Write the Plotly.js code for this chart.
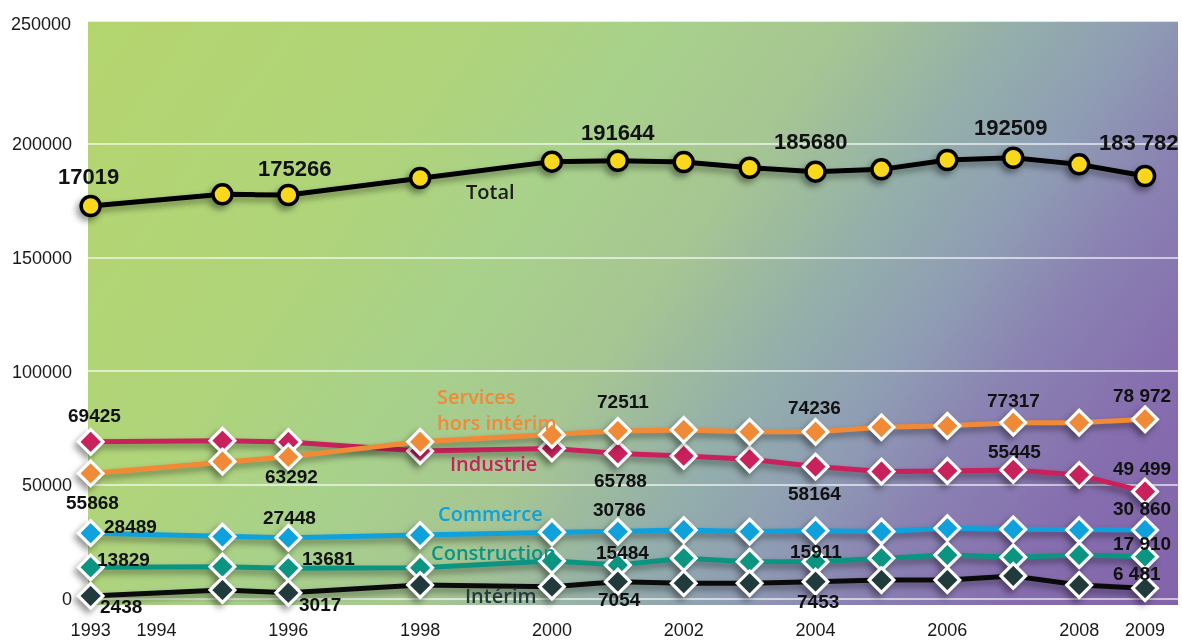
<!DOCTYPE html>
<html>
<head>
<meta charset="utf-8">
<script src="https://cdn.plot.ly/plotly-3.0.1.min.js"></script>
<style>
  html, body { margin: 0; padding: 0; background: #ffffff; }
  #chart { width: 1182px; height: 641px; }
  .js-plotly-plot .scatterlayer .trace { filter: drop-shadow(-3px 4px 3px rgba(0,0,0,0.40)); }
</style>
</head>
<body>
<div id="chart"></div>
<script>
// ---------- data ----------
const years = [1993, 1995, 1996, 1998, 2000, 2001, 2002, 2003, 2004, 2005, 2006, 2007, 2008, 2009];

const total        = [172700, 177800, 177500, 185000, 192200, 192600, 192000, 189500, 187800, 188800, 192900, 193900, 191000, 185900];
const industrie    = [69000, 69500, 68900, 64900, 66100, 63900, 62800, 61300, 58100, 55900, 56200, 56600, 54400, 47100];
const services     = [55100, 60300, 62400, 69000, 72000, 73800, 74200, 73400, 73400, 75400, 76000, 77400, 77400, 78900];
const commerce     = [28800, 27300, 26800, 28000, 29200, 29500, 30200, 29500, 29900, 29500, 31000, 30500, 30200, 30200];
const construction = [13800, 14100, 13400, 13600, 16600, 14800, 17800, 16300, 16300, 17800, 19200, 18200, 19200, 18500];
const interim      = [1200, 3800, 2600, 6000, 5300, 7500, 6800, 6800, 7500, 8200, 8200, 10000, 6000, 4600];

const totalLabels        = ['17019', null, '175266', null, null, '191644', null, null, '185680', null, null, '192509', null, '183 782'];
const industrieLabels    = ['69425', null, null, null, null, '65788', null, null, '58164', null, null, '55445', null, '49 499'];
const servicesLabels     = ['55868', null, '63292', null, null, '72511', null, null, '74236', null, null, '77317', null, '78 972'];
const commerceLabels     = ['28489', null, '27448', null, null, '30786', null, null, null, null, null, null, null, '30 860'];
const constructionLabels = ['13829', null, '13681', null, null, '15484', null, null, '15911', null, null, null, null, '17 910'];
const interimLabels      = ['2438', null, '3017', null, null, '7054', null, null, '7453', null, null, null, null, '6 481'];

const seriesNames = ['Total', 'Industrie', 'Services hors intérim', 'Commerce', 'Construction', 'Intérim'];

const xTickVals  = [1993, 1994, 1996, 1998, 2000, 2002, 2004, 2006, 2008, 2009];
const xTickText  = ['1993', '1994', '1996', '1998', '2000', '2002', '2004', '2006', '2008', '2009'];
const yTickVals  = [0, 50000, 100000, 150000, 200000];
const yTickText  = ['0', '50000', '100000', '150000', '200000'];
const yTopLabel  = '250000';

// ---------- styling / placement (not data) ----------
const LBL_FONT = 'Liberation Sans, Arial, sans-serif';
const NAME_FONT = 'Open Sans, sans-serif';

// label offsets in pixels [dx, dy(screen, down positive)], indexed like years
const offsets = {
  total:        {0:[-2,-29], 2:[6,-27], 5:[0,-28], 8:[-5,-30], 11:[-3,-30], 13:[-6,-33]},
  industrie:    {0:[4,-26], 5:[3,27], 8:[-1,27], 11:[1,-18], 13:[-3,-23]},
  services:     {0:[2,29], 2:[3,20], 5:[5,-29], 8:[-1,-24], 11:[0,-22], 13:[-3,-24]},
  commerce:     {0:[40,-7], 2:[1,-20], 5:[2,-22], 13:[-3,-22]},
  construction: {0:[33,-8], 2:[40,-10], 5:[5,-13], 8:[0,-10], 13:[-3,-13]},
  interim:      {0:[30,11], 2:[32,12], 5:[2,18], 8:[2,20], 13:[-8,-15]}
};

const colors = {
  total: '#000000', totalMarker: '#f9d71c',
  industrie: '#c8215b', services: '#f08a37', commerce: '#0ea1dc',
  construction: '#0b9580', interimLine: '#0a0a0a', interimMarker: '#213a3c'
};

function lineTrace(name, y, lineColor, markerColor, symbol, size, mlineColor, mlineW, lw) {
  return {
    type: 'scatter', mode: 'lines+markers', name: name,
    x: years, y: y,
    line: { color: lineColor, width: lw },
    marker: { symbol: symbol, size: size, color: markerColor, line: { color: mlineColor, width: mlineW } },
    hoverinfo: 'x+y', cliponaxis: false
  };
}

const traces = [
  lineTrace(seriesNames[0], total, colors.total, colors.totalMarker, 'circle', 19, '#000000', 3.5, 5),
  lineTrace(seriesNames[1], industrie, colors.industrie, colors.industrie, 'diamond', 19, '#ffffff', 3.2, 5),
  lineTrace(seriesNames[2], services, colors.services, colors.services, 'diamond', 19, '#ffffff', 3.2, 5),
  lineTrace(seriesNames[3], commerce, colors.commerce, colors.commerce, 'diamond', 19, '#ffffff', 3.2, 5),
  lineTrace(seriesNames[4], construction, colors.construction, colors.construction, 'diamond', 19, '#ffffff', 3.2, 5),
  lineTrace(seriesNames[5], interim, colors.interimLine, colors.interimMarker, 'diamond', 19, '#ffffff', 3.2, 5)
];

const annotations = [];
function addLabels(vals, labels, off, size) {
  labels.forEach(function (t, i) {
    if (t === null) return;
    const o = off[i] || [0, -25];
    annotations.push({
      xref: 'x', yref: 'y', x: years[i], y: vals[i], text: t, showarrow: false,
      xshift: o[0], yshift: -o[1], xanchor: 'center', yanchor: 'middle',
      font: { family: LBL_FONT, size: size, color: '#111111', weight: 'bold' }
    });
  });
}
addLabels(total, totalLabels, offsets.total, 22);
addLabels(industrie, industrieLabels, offsets.industrie, 19);
addLabels(services, servicesLabels, offsets.services, 19);
addLabels(commerce, commerceLabels, offsets.commerce, 19);
addLabels(construction, constructionLabels, offsets.construction, 19);
addLabels(interim, interimLabels, offsets.interim, 19);

// series name labels placed inside the plot
function nameLabel(text, x, y, color, anchor) {
  annotations.push({
    xref: 'x', yref: 'y', x: x, y: y, text: text, showarrow: false,
    xanchor: anchor || 'center', yanchor: 'middle', align: anchor || 'center',
    font: { family: NAME_FONT, size: 20, color: color, weight: 600 }
  });
}
nameLabel('Total', 1999.06, 178980, '#1c1c1c');
nameLabel('Services<br>hors intérim', 1998.22, 83110, colors.services, 'left');
nameLabel('Industrie', 1999.12, 59540, colors.industrie);
nameLabel('Commerce', 1999.06, 37250, colors.commerce);
nameLabel('Construction', 1999.11, 20230, colors.construction);
nameLabel('Intérim', 1999.22, 1190, '#23393b');

// top y label (its gridline coincides with the plot frame)
annotations.push({
  xref: 'paper', yref: 'paper', x: 0, y: 1, text: yTopLabel, showarrow: false,
  xanchor: 'right', yanchor: 'middle', xshift: -15, yshift: -3,
  font: { family: LBL_FONT, size: 18, color: '#1a1a1a' }
});

// background gradient as svg image
const svg = "<svg xmlns='http://www.w3.org/2000/svg' width='1090' height='584' viewBox='0 0 1090 584' preserveAspectRatio='none'>" +
  "<defs><linearGradient id='g' gradientUnits='userSpaceOnUse' x1='0' y1='0' x2='998' y2='715'>" +
  "<stop offset='0' stop-color='#b4d56e'/>" +
  "<stop offset='0.25' stop-color='#b0d47a'/>" +
  "<stop offset='0.38' stop-color='#a8d18b'/>" +
  "<stop offset='0.5' stop-color='#a6c692'/>" +
  "<stop offset='0.62' stop-color='#93aeab'/>" +
  "<stop offset='0.7' stop-color='#8f9db4'/>" +
  "<stop offset='0.78' stop-color='#8a82b2'/>" +
  "<stop offset='0.88' stop-color='#866eae'/>" +
  "<stop offset='1' stop-color='#8263aa'/>" +
  "</linearGradient></defs><rect width='1090' height='584' fill='url(#g)'/></svg>";
const bgSrc = 'data:image/svg+xml;charset=utf-8,' + encodeURIComponent(svg);

const layout = {
  width: 1182, height: 641,
  margin: { l: 88, r: 4, t: 21, b: 36 },
  paper_bgcolor: '#ffffff',
  plot_bgcolor: 'rgba(0,0,0,0)',
  showlegend: false,
  images: [{
    source: bgSrc, xref: 'paper', yref: 'paper', x: 0, y: 1, sizex: 1, sizey: 1,
    sizing: 'stretch', xanchor: 'left', yanchor: 'top', layer: 'below'
  }],
  xaxis: {
    range: [1992.96, 2009.5], showgrid: false, zeroline: false, showline: false,
    tickmode: 'array', tickvals: xTickVals, ticktext: xTickText, ticks: '',
    ticklabelstandoff: 12,
    tickfont: { family: LBL_FONT, size: 18, color: '#1a1a1a' }
  },
  yaxis: {
    range: [-2770, 254040], showgrid: true, gridcolor: 'rgba(255,255,255,0.6)', gridwidth: 2,
    zeroline: false, showline: false,
    tickmode: 'array', tickvals: yTickVals, ticktext: yTickText, ticks: '',
    ticklabelstandoff: 15,
    tickfont: { family: LBL_FONT, size: 18, color: '#1a1a1a' }
  },
  shapes: [{
    type: 'line', xref: 'paper', yref: 'paper', x0: 0, x1: 1, y0: 1, y1: 1,
    line: { color: 'rgba(255,255,255,0.7)', width: 2 }, layer: 'below'
  }],
  annotations: annotations
};

Plotly.newPlot('chart', traces, layout, { displayModeBar: false, responsive: false });
</script>
</body>
</html>
